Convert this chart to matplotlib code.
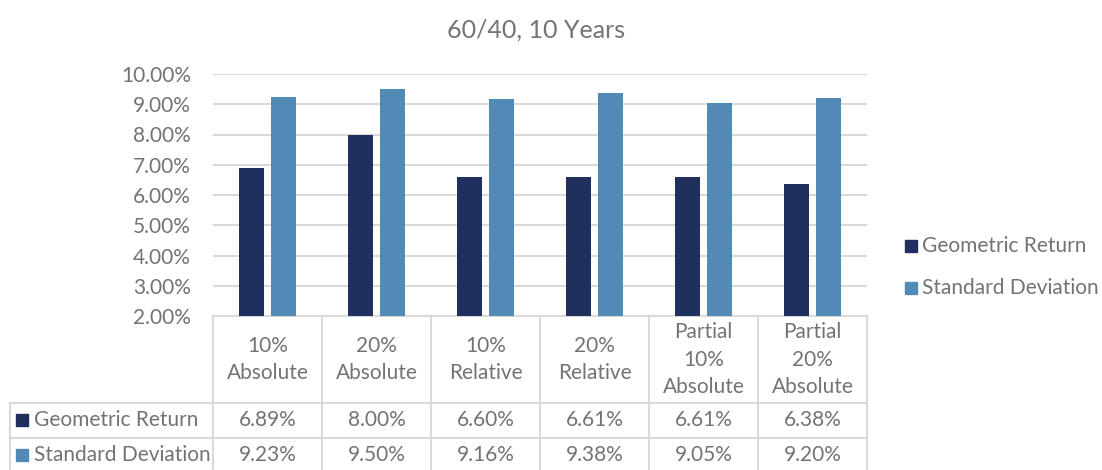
import numpy as np
import matplotlib.pyplot as plt
from matplotlib.transforms import blended_transform_factory
from matplotlib.patches import Rectangle

# Data
categories = ["10%\nAbsolute", "20%\nAbsolute", "10%\nRelative", "20%\nRelative",
              "Partial\n10%\nAbsolute", "Partial\n20%\nAbsolute"]
geometric_return = [6.89, 8.00, 6.60, 6.61, 6.61, 6.38]
standard_deviation = [9.23, 9.50, 9.16, 9.38, 9.05, 9.20]
series_names = ["Geometric Return", "Standard Deviation"]
y_ticks = [2, 3, 4, 5, 6, 7, 8, 9, 10]

dark_blue = "#1F2F5E"
light_blue = "#528AB6"
text_gray = "#737373"
grid_gray = "#D9D9D9"
fs = 15

plt.rcParams['font.family'] = ['Lato', 'DejaVu Sans']

W, H = 1102, 470
fig = plt.figure(figsize=(W / 100, H / 100), dpi=100)

# Plot area in pixel units converted to figure fractions
left, right, top, bottom = 213, 867, 74, 316
ax = fig.add_axes([left / W, 1 - bottom / H, (right - left) / W, (bottom - top) / H])

x = np.arange(len(categories))
ax.bar(x - 0.145, geometric_return, width=0.23, color=dark_blue, zorder=3)
ax.bar(x + 0.145, standard_deviation, width=0.23, color=light_blue, zorder=3)

ax.set_xlim(-0.5, len(categories) - 0.5)
ax.set_ylim(2, 10)
ax.set_yticks(y_ticks)
ax.set_yticklabels(["%.2f%%" % v for v in y_ticks])
ax.tick_params(axis='y', length=0, pad=16, labelsize=fs, labelcolor=text_gray)
ax.set_xticks([])
ax.yaxis.grid(True, color=grid_gray, linewidth=1.5, zorder=0)
for side in ["top", "right", "left"]:
    ax.spines[side].set_visible(False)
ax.spines["bottom"].set_color(grid_gray)
ax.spines["bottom"].set_linewidth(1.5)

# Title
fig.text(536 / W, 1 - 30 / H, "60/40, 10 Years", ha='center', va='center',
         fontsize=18, color=text_gray)

# Legend
for i, (name, col) in enumerate(zip(series_names, [dark_blue, light_blue])):
    yy = 1 - (246 + 42 * i) / H
    fig.patches.append(Rectangle((905 / W, yy - 6 / H), 12 / W, 12 / H,
                                 color=col, transform=fig.transFigure))
    fig.text(922 / W, yy, name, ha='left', va='center', fontsize=fs, color=text_gray)

# Data table under the plot
trans = blended_transform_factory(ax.transData, fig.transFigure)
y_head = 1 - 316 / H
y_row1 = 1 - 403 / H
y_row2 = 1 - 438 / H
y_end = 0.0
line_kw = dict(color=grid_gray, linewidth=1.5, clip_on=False)

for b in np.arange(len(categories) + 1) - 0.5:
    ax.plot([b, b], [y_head, y_end], transform=trans, **line_kw)
for yy in [y_row1, y_row2]:
    fig.add_artist(plt.Line2D([10 / W, right / W], [yy, yy], **line_kw))
fig.add_artist(plt.Line2D([10 / W, 10 / W], [y_row1, y_end], **line_kw))

row_mid = [1 - 420 / H, 1 - 455 / H]
for i, cat in enumerate(categories):
    ax.text(i, (y_head + y_row1) / 2, cat, transform=trans, ha='center', va='center',
            fontsize=fs, color=text_gray, linespacing=1.45)
    ax.text(i, row_mid[0], "%.2f%%" % geometric_return[i], transform=trans,
            ha='center', va='center', fontsize=fs, color=text_gray)
    ax.text(i, row_mid[1], "%.2f%%" % standard_deviation[i], transform=trans,
            ha='center', va='center', fontsize=fs, color=text_gray)

# Row headers with colour keys
for name, col, yy in zip(series_names, [dark_blue, light_blue], row_mid):
    fig.patches.append(Rectangle((16 / W, yy - 6 / H), 12 / W, 12 / H,
                                 color=col, transform=fig.transFigure))
    fig.text(34 / W, yy, name, ha='left', va='center', fontsize=fs, color=text_gray)

plt.savefig("out.png", dpi=100, facecolor="white")
